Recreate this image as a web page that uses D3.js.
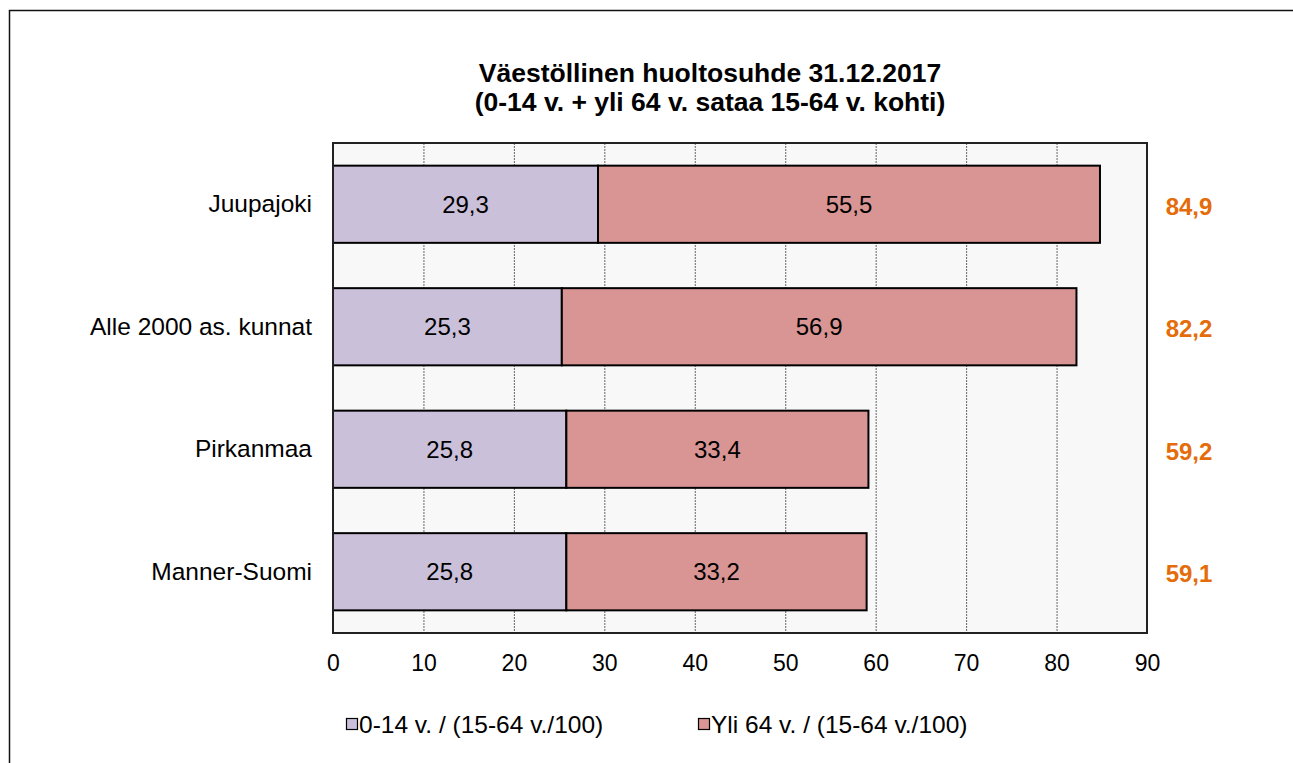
<!DOCTYPE html>
<html>
<head>
<meta charset="utf-8">
<script src="https://cdn.jsdelivr.net/npm/d3@7"></script>
<style>
  body { margin: 0; background: #fff; }
  svg { font-family: "Liberation Sans", Arial, sans-serif; }
</style>
</head>
<body>
<div id="chart"></div>
<script>
// data
const categories = ['Juupajoki', 'Alle 2000 as. kunnat', 'Pirkanmaa', 'Manner-Suomi'];
const children = [29.3, 25.3, 25.8, 25.8];
const elderly = [55.5, 56.9, 33.4, 33.2];
const totals = [84.9, 82.2, 59.2, 59.1];
const seriesNames = ['0-14 v. / (15-64 v./100)', 'Yli 64 v. / (15-64 v./100)'];
const xTicks = [0, 10, 20, 30, 40, 50, 60, 70, 80, 90];

const width = 1293;
const height = 763;
const colors = ['#cbc0da', '#d99594'];
const fmt = v => v.toFixed(1).replace('.', ',');

const svg = d3.select('#chart').append('svg')
    .attr('width', width)
    .attr('height', height);

// outer frame, runs off the right and bottom edges
svg.append('rect')
    .attr('x', 9.5).attr('y', 10.5)
    .attr('width', 1400).attr('height', 900)
    .attr('fill', 'none')
    .attr('stroke', '#111')
    .attr('stroke-width', 1.5);

const plot = { left: 333, right: 1147, top: 143, bottom: 633 };

const x = d3.scaleLinear().domain([0, 90]).range([plot.left, plot.right]);
const y = d3.scaleBand().domain(categories).range([plot.top, plot.bottom]).paddingInner(0.37).paddingOuter(0.185);

// title
const title = svg.append('text')
    .attr('x', 710).attr('y', 82)
    .attr('text-anchor', 'middle')
    .attr('font-weight', 'bold')
    .attr('font-size', 26.5);
title.append('tspan').attr('x', 710).text('Väestöllinen huoltosuhde 31.12.2017');
title.append('tspan').attr('x', 710).attr('dy', 29).text('(0-14 v. + yli 64 v. sataa 15-64 v. kohti)');

// plot background
svg.append('rect')
    .attr('x', plot.left).attr('y', plot.top)
    .attr('width', plot.right - plot.left).attr('height', plot.bottom - plot.top)
    .attr('fill', '#f8f8f8');

// gridlines
svg.append('g').selectAll('line')
    .data(xTicks.slice(1, -1))
    .join('line')
    .attr('x1', d => x(d) + 0.5).attr('x2', d => x(d) + 0.5)
    .attr('y1', plot.top).attr('y2', plot.bottom)
    .attr('stroke', '#666')
    .attr('stroke-width', 1)
    .attr('stroke-dasharray', '2,1');

// bars
const stacked = categories.map((c, i) => [
    { cat: c, x0: 0, x1: children[i], v: children[i], s: 0 },
    { cat: c, x0: children[i], x1: children[i] + elderly[i], v: elderly[i], s: 1 }
]).flat();

svg.append('g').selectAll('rect')
    .data(stacked)
    .join('rect')
    .attr('x', d => x(d.x0))
    .attr('y', d => y(d.cat))
    .attr('width', d => x(d.x1) - x(d.x0))
    .attr('height', y.bandwidth())
    .attr('fill', d => colors[d.s])
    .attr('stroke', '#000')
    .attr('stroke-width', 2);

svg.append('g').selectAll('text')
    .data(stacked)
    .join('text')
    .attr('x', d => x((d.x0 + d.x1) / 2))
    .attr('y', d => y(d.cat) + y.bandwidth() / 2)
    .attr('dy', '0.36em')
    .attr('text-anchor', 'middle')
    .attr('font-size', 24)
    .text(d => fmt(d.v));

// totals on the right
svg.append('g').selectAll('text')
    .data(categories)
    .join('text')
    .attr('x', 1189)
    .attr('y', d => y(d) + y.bandwidth() / 2)
    .attr('dy', '0.44em')
    .attr('text-anchor', 'middle')
    .attr('font-size', 24)
    .attr('font-weight', 'bold')
    .attr('fill', '#e46c0a')
    .text((d, i) => fmt(totals[i]));

// plot border
svg.append('rect')
    .attr('x', plot.left).attr('y', plot.top)
    .attr('width', plot.right - plot.left).attr('height', plot.bottom - plot.top)
    .attr('fill', 'none')
    .attr('stroke', '#222')
    .attr('stroke-width', 2);

// axes
const xAxis = svg.append('g')
    .attr('transform', `translate(0,${plot.bottom})`)
    .call(d3.axisBottom(x).tickValues(xTicks).tickSize(0).tickPadding(22));
xAxis.select('.domain').remove();
xAxis.selectAll('text')
    .attr('font-family', '"Liberation Sans", Arial, sans-serif')
    .attr('font-size', 23)
    .attr('fill', '#000');

const yAxis = svg.append('g')
    .attr('transform', `translate(${plot.left},0)`)
    .call(d3.axisLeft(y).tickSize(0).tickPadding(21));
yAxis.select('.domain').remove();
yAxis.selectAll('text')
    .attr('font-family', '"Liberation Sans", Arial, sans-serif')
    .attr('font-size', 24.5)
    .attr('fill', '#000');

// legend
const legendX = [346, 698];
const legend = svg.append('g').selectAll('g')
    .data(seriesNames)
    .join('g')
    .attr('transform', (d, i) => `translate(${legendX[i]},724)`);
legend.append('rect')
    .attr('x', 0.5).attr('y', -5.5)
    .attr('width', 11).attr('height', 11)
    .attr('fill', (d, i) => colors[i])
    .attr('stroke', '#000')
    .attr('stroke-width', 1.2);
legend.append('text')
    .attr('x', 13)
    .attr('dy', '0.36em')
    .attr('font-size', 24.5)
    .text(d => d);
</script>
</body>
</html>
